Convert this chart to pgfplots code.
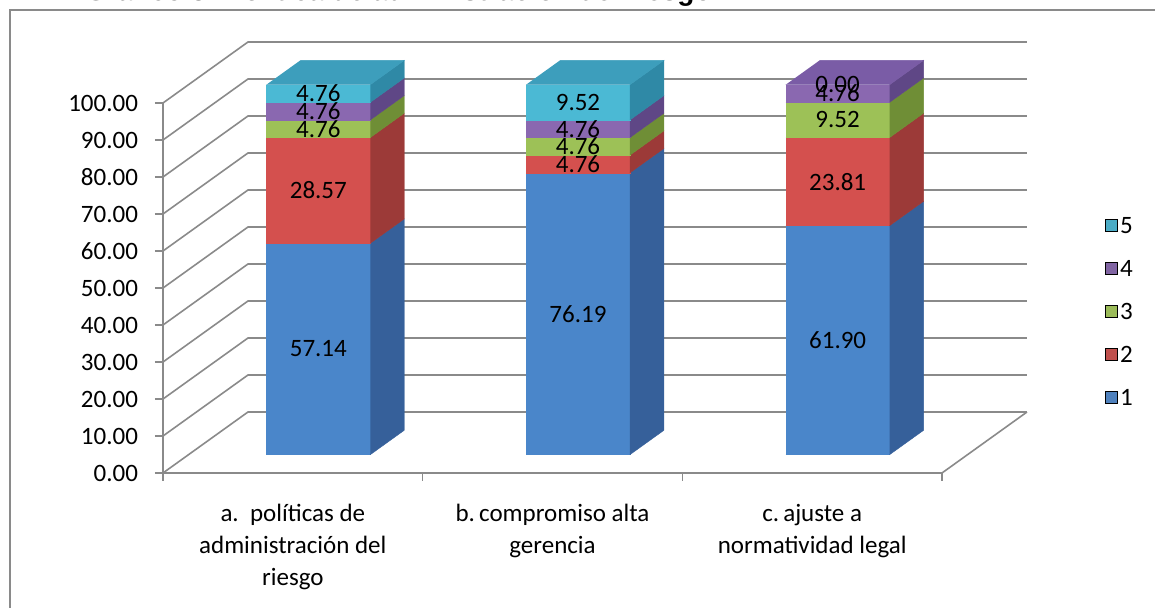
\documentclass[border=0pt]{standalone}
\usepackage{fontspec}
\setmainfont{Carlito}
\newfontfamily\titlefont{Liberation Sans}
\usepackage{pgfplots}
\pgfplotsset{compat=1.18}

\definecolor{gridgray}{HTML}{8A8A8A}
\definecolor{f1}{HTML}{4A86CA}\definecolor{s1}{HTML}{36609A}
\definecolor{f2}{HTML}{D4504E}\definecolor{s2}{HTML}{9C3A38}
\definecolor{f3}{HTML}{9DC157}\definecolor{s3}{HTML}{6F8E36}
\definecolor{f4}{HTML}{8A68B0}\definecolor{s4}{HTML}{5F4786}
\definecolor{f5}{HTML}{4BB9D4}\definecolor{s5}{HTML}{2F89A6}
\definecolor{t5}{HTML}{3D9EBC}\definecolor{t4}{HTML}{7A5CA6}
\definecolor{l1}{HTML}{4F81BD}\definecolor{l2}{HTML}{C0504D}
\definecolor{l3}{HTML}{9BBB59}\definecolor{l4}{HTML}{8064A2}
\definecolor{l5}{HTML}{4BACC6}

\newcommand{\lbl}{\fontsize{12.5}{15}\selectfont}
\newcommand{\catfont}{\fontsize{12.5}{16}\selectfont}

% one stacked segment: xl, xr, bottom, top, front colour, side colour
\newcommand{\seg}[6]{%
  \addplot3[fill=#5, draw=#5, line width=0.2pt] coordinates {(#1,0.3,#3) (#2,0.3,#3) (#2,0.3,#4) (#1,0.3,#4)};
  \addplot3[fill=#6, draw=#6, line width=0.2pt] coordinates {(#2,0.3,#3) (#2,0.7,#3) (#2,0.7,#4) (#2,0.3,#4)};
}
\newcommand{\topface}[4]{%
  \addplot3[fill=#4, draw=#4, line width=0.2pt] coordinates {(#1,0.3,#3) (#2,0.3,#3) (#2,0.7,#3) (#1,0.7,#3)};
}

\begin{document}
\begin{tikzpicture}
\useasboundingbox (-81.5pt,-67.5pt) rectangle (496pt,236.5pt);
\clip (-81.5pt,-67.5pt) rectangle (496pt,236.5pt);

\node[anchor=base east, inner sep=0pt, font=\titlefont\bfseries\fontsize{14}{16}\selectfont]
  at (274.5pt,236.3pt) {Gráfico 3. Política de administración del riesgo};
\draw[gridgray, line width=0.9pt] (-76.5pt,-80pt) -- (-76.5pt,231.5pt) -- (510pt,231.5pt);

% 3D part (oblique projection)
\begin{axis}[
  at={(0pt,0pt)}, anchor=origin,
  x={(129.83pt,0pt)}, y={(42.5pt,30.5pt)}, z={(0pt,1.85pt)},
  xmin=0, xmax=3, ymin=0, ymax=1, zmin=0, zmax=100,
  hide axis, clip=false,
]
\pgfplotsinvokeforeach{0,10,...,100}{%
  \addplot3[draw=gridgray, line width=0.8pt] coordinates {(0,0,#1) (0,1,#1) (3,1,#1)};
}
\addplot3[draw=gridgray, line width=0.8pt] coordinates {(3,0,0) (3,1,0)};

% a. politicas de administracion del riesgo
\seg{0.3}{0.7}{0}{57.14}{f1}{s1}
\seg{0.3}{0.7}{57.14}{85.71}{f2}{s2}
\seg{0.3}{0.7}{85.71}{90.47}{f3}{s3}
\seg{0.3}{0.7}{90.47}{95.23}{f4}{s4}
\seg{0.3}{0.7}{95.23}{99.99}{f5}{s5}
\topface{0.3}{0.7}{99.99}{t5}
% b. compromiso alta gerencia
\seg{1.3}{1.7}{0}{76.19}{f1}{s1}
\seg{1.3}{1.7}{76.19}{80.95}{f2}{s2}
\seg{1.3}{1.7}{80.95}{85.71}{f3}{s3}
\seg{1.3}{1.7}{85.71}{90.47}{f4}{s4}
\seg{1.3}{1.7}{90.47}{99.99}{f5}{s5}
\topface{1.3}{1.7}{99.99}{t5}
% c. ajuste a normatividad legal
\seg{2.3}{2.7}{0}{61.90}{f1}{s1}
\seg{2.3}{2.7}{61.90}{85.71}{f2}{s2}
\seg{2.3}{2.7}{85.71}{95.23}{f3}{s3}
\seg{2.3}{2.7}{95.23}{99.99}{f4}{s4}
\topface{2.3}{2.7}{99.99}{t4}

\addplot3[draw=none, mark=none, nodes near coords, point meta=explicit symbolic,
  every node near coord/.append style={anchor=center, font=\lbl, text=black, inner sep=0pt}]
  coordinates {
  (0.5,0.3,28.57) [57.14]
  (0.5,0.3,71.43) [28.57]
  (0.5,0.3,88.09) [4.76]
  (0.5,0.3,92.85) [4.76]
  (0.5,0.3,97.61) [4.76]
  (1.5,0.3,38.10) [76.19]
  (1.5,0.3,78.57) [4.76]
  (1.5,0.3,83.33) [4.76]
  (1.5,0.3,88.09) [4.76]
  (1.5,0.3,95.23) [9.52]
  (2.5,0.3,30.95) [61.90]
  (2.5,0.3,73.81) [23.81]
  (2.5,0.3,90.47) [9.52]
  (2.5,0.3,97.61) [4.76]
  (2.5,0.3,99.99) [0.00]
  };
\end{axis}

% 2D front axis: value ticks, category labels, legend
\begin{axis}[
  at={(0pt,0pt)}, anchor=origin,
  scale only axis, width=389.5pt, height=185pt,
  xmin=0, xmax=3, ymin=0, ymax=100,
  axis x line=bottom, axis y line=left,
  axis line style={-, draw=gridgray, line width=0.8pt},
  tick align=outside,
  major tick length=4pt, minor tick length=4pt,
  every tick/.style={draw=gridgray, line width=0.8pt},
  ytick={0,10,...,100},
  xtick={0.5,1.5,2.5},
  minor xtick={0,1,2,3},
  every major x tick/.style={draw=none},
  xticklabels={{a.\ \ políticas de\\administración del\\riesgo},{b.\,compromiso alta\\gerencia},{c.\,ajuste a\\normatividad legal}},
  x tick label style={font=\catfont, align=center, yshift=-8pt},
  y tick label style={font=\lbl, xshift=-5pt},
  yticklabel style={/pgf/number format/.cd, fixed, fixed zerofill, precision=2},
  /pgf/number format/assume math mode=true,
  legend image code/.code={\fill[#1] (0pt,-3pt) rectangle (6pt,3pt);},
  legend style={at={(1.2285,0.4378)}, anchor=center, draw=none, fill=none,
    font=\lbl, row sep=11.5pt,
    nodes={inner sep=1pt, text height=8pt, text depth=0pt}},
]
\addlegendimage{fill=l5}\addlegendentry{5}
\addlegendimage{fill=l4}\addlegendentry{4}
\addlegendimage{fill=l3}\addlegendentry{3}
\addlegendimage{fill=l2}\addlegendentry{2}
\addlegendimage{fill=l1}\addlegendentry{1}
\end{axis}
\end{tikzpicture}
\end{document}
